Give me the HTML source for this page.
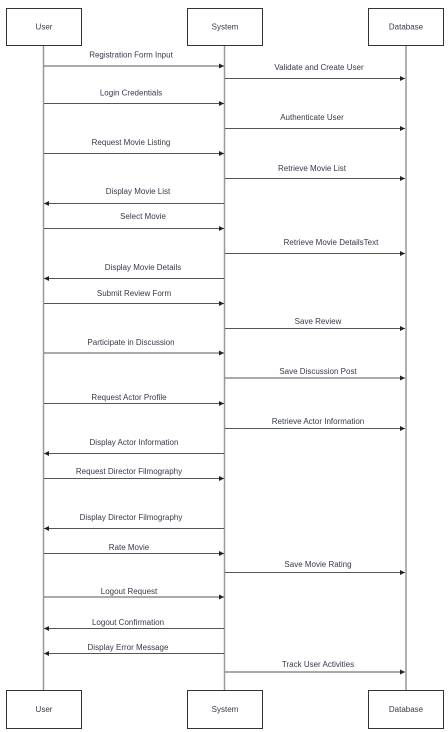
<!DOCTYPE html>
<html><head><meta charset="utf-8"><style>
html,body{margin:0;padding:0;background:#fff;}
svg{display:block;}
text{font-family:"Liberation Sans",Arial,sans-serif;font-size:8px;fill:#333a48;}
</style></head><body>
<svg width="448" height="732" viewBox="0 0 448 732" xmlns="http://www.w3.org/2000/svg">
<defs>
<marker id="a" markerWidth="6" markerHeight="6" refX="5" refY="3" orient="auto" markerUnits="userSpaceOnUse">
<path d="M0,0.5 L5,3 L0,5.5 z" fill="#222"/>
</marker>
</defs>
<g stroke="#999" stroke-width="1.5">
<line x1="43.5" y1="45" x2="43.5" y2="690"/>
<line x1="224.5" y1="45" x2="224.5" y2="690"/>
<line x1="406" y1="45" x2="406" y2="690"/>
</g>
<g fill="#fff" stroke="#333" stroke-width="1">
<rect x="6.5" y="8.5" width="75" height="37"/>
<rect x="187.5" y="8.5" width="75" height="37"/>
<rect x="368.5" y="8.5" width="75" height="37"/>
<rect x="6.5" y="690.5" width="75" height="38"/>
<rect x="187.5" y="690.5" width="75" height="38"/>
<rect x="368.5" y="690.5" width="75" height="38"/>
</g>
<g text-anchor="middle">
<text x="44" y="29.5">User</text>
<text x="225" y="29.5">System</text>
<text x="406" y="29.5">Database</text>
<text x="44" y="712">User</text>
<text x="225" y="712">System</text>
<text x="406" y="712">Database</text>
</g>
<g stroke="#555" stroke-width="1" marker-end="url(#a)">
<line x1="44" y1="66" x2="224" y2="66"/>
<line x1="225" y1="78.5" x2="405" y2="78.5"/>
<line x1="44" y1="103.5" x2="224" y2="103.5"/>
<line x1="225" y1="128.5" x2="405" y2="128.5"/>
<line x1="44" y1="153.5" x2="224" y2="153.5"/>
<line x1="225" y1="178.5" x2="405" y2="178.5"/>
<line x1="224" y1="203.5" x2="44" y2="203.5"/>
<line x1="44" y1="228.5" x2="224" y2="228.5"/>
<line x1="225" y1="253.5" x2="405" y2="253.5"/>
<line x1="224" y1="278.5" x2="44" y2="278.5"/>
<line x1="44" y1="303.5" x2="224" y2="303.5"/>
<line x1="225" y1="328.5" x2="405" y2="328.5"/>
<line x1="44" y1="353" x2="224" y2="353"/>
<line x1="225" y1="378" x2="405" y2="378"/>
<line x1="44" y1="403.5" x2="224" y2="403.5"/>
<line x1="225" y1="428.5" x2="405" y2="428.5"/>
<line x1="224" y1="453.5" x2="44" y2="453.5"/>
<line x1="44" y1="478.5" x2="224" y2="478.5"/>
<line x1="224" y1="528.5" x2="44" y2="528.5"/>
<line x1="44" y1="553.5" x2="224" y2="553.5"/>
<line x1="225" y1="572.5" x2="405" y2="572.5"/>
<line x1="44" y1="597" x2="224" y2="597"/>
<line x1="224" y1="628.5" x2="44" y2="628.5"/>
<line x1="224" y1="653.5" x2="44" y2="653.5"/>
<line x1="225" y1="672" x2="405" y2="672"/>
</g>
<g text-anchor="middle">
<text x="131" y="57.5">Registration Form Input</text>
<text x="319" y="70">Validate and Create User</text>
<text x="131" y="95.5">Login Credentials</text>
<text x="312" y="120">Authenticate User</text>
<text x="131" y="145">Request Movie Listing</text>
<text x="312" y="171">Retrieve Movie List</text>
<text x="138" y="194">Display Movie List</text>
<text x="143" y="219">Select Movie</text>
<text x="331" y="245">Retrieve Movie DetailsText</text>
<text x="143" y="270">Display Movie Details</text>
<text x="134" y="296">Submit Review Form</text>
<text x="318" y="324">Save Review</text>
<text x="131" y="345">Participate in Discussion</text>
<text x="318" y="374">Save Discussion Post</text>
<text x="129" y="400">Request Actor Profile</text>
<text x="318" y="424">Retrieve Actor Information</text>
<text x="134" y="445">Display Actor Information</text>
<text x="129" y="474">Request Director Filmography</text>
<text x="131" y="520">Display Director Filmography</text>
<text x="129" y="550">Rate Movie</text>
<text x="318" y="567">Save Movie Rating</text>
<text x="129" y="594">Logout Request</text>
<text x="128" y="625">Logout Confirmation</text>
<text x="128" y="650">Display Error Message</text>
<text x="318" y="667">Track User Activities</text>
</g>
</svg>
</body></html>
